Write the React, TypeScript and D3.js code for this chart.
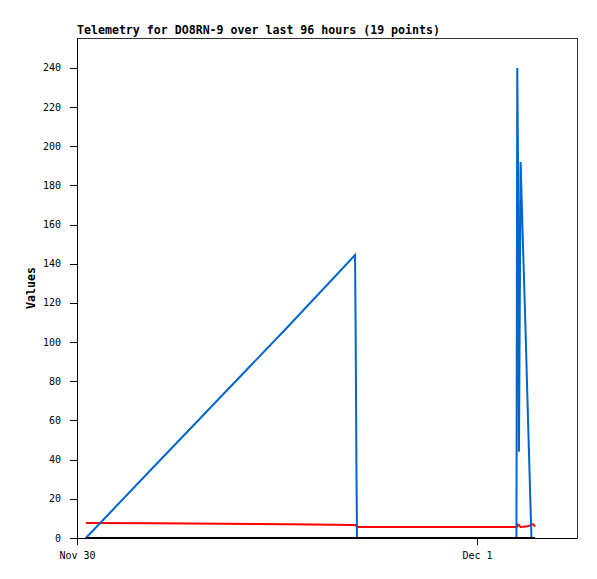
import { useEffect, useRef } from "react";
import * as d3 from "d3";

// sample times (local), 19 points
const times = [
  "2023-11-30 00:32",
  "2023-11-30 04:34",
  "2023-11-30 12:40",
  "2023-11-30 16:41",
  "2023-11-30 16:43",
  "2023-11-30 16:46",
  "2023-11-30 16:48",
  "2023-12-01 02:22",
  "2023-12-01 02:25",
  "2023-12-01 02:28",
  "2023-12-01 02:31",
  "2023-12-01 02:37",
  "2023-12-01 02:44",
  "2023-12-01 02:55",
  "2023-12-01 03:00",
  "2023-12-01 03:07",
  "2023-12-01 03:16",
  "2023-12-01 03:23",
  "2023-12-01 03:29",
];

const blueValues = [0, 36, 108, 144.5, 108, 36, 0, 0, 240, 184, 44, 192, 157, 105, 79, 44, 0, 0, 0];
const redValues = [7.7, 7.5, 7.0, 6.6, 6.4, 6.0, 5.6, 5.6, 5.9, 6.8, 6.6, 5.6, 5.7, 5.9, 6.0, 6.2, 6.9, 7.0, 5.8];
const blackValues = [0, 0, 0, 0, 0, 0, 0, 0, 0, 0, 0, 0, 0, 0, 0, 0, 0, 0, 0];

const yTicks = [0, 20, 40, 60, 80, 100, 120, 140, 160, 180, 200, 220, 240];
const xTickLabels = ["Nov 30", "Dec 1"];
const xTickTimes = ["2023-11-30 00:00", "2023-12-01 00:00"];
const xDomain = ["2023-11-30 00:00", "2023-12-01 06:00"];
const yDomain = [0, 255.3];

const title = "Telemetry for DO8RN-9 over last 96 hours (19 points)";

const parse = d3.timeParse("%Y-%m-%d %H:%M");

export default function App() {
  const ref = useRef<SVGSVGElement>(null);

  useEffect(() => {
    document.body.style.margin = "0";
  }, []);

  const width = 597;
  const height = 579;
  const margin = { top: 38, right: 20, bottom: 41, left: 77 };
  const innerW = width - margin.left - margin.right;
  const innerH = height - margin.top - margin.bottom;

  const x = d3
    .scaleTime()
    .domain(xDomain.map((t) => parse(t) as Date))
    .range([margin.left, margin.left + innerW]);
  const y = d3
    .scaleLinear()
    .domain(yDomain)
    .range([margin.top + innerH, margin.top]);

  const dates = times.map((t) => parse(t) as Date);
  const line = d3
    .line<number>()
    .x((_, i) => x(dates[i]))
    .y((v) => y(v));

  const series = [
    { values: redValues, color: "#ff0000" },
    { values: blueValues, color: "#0066cc" },
    { values: blackValues, color: "#000000" },
  ];

  const mono = "'DejaVu Sans Mono', monospace";
  const bottom = margin.top + innerH;

  return (
    <svg ref={ref} width={width} height={height} style={{ display: "block", background: "#fff" }}>
      {/* frame */}
      <rect
        x={margin.left + 0.5}
        y={margin.top + 0.5}
        width={innerW}
        height={innerH}
        fill="none"
        stroke="#333"
        strokeWidth={1}
      />
      <line x1={margin.left + 0.5} x2={margin.left + 0.5} y1={margin.top} y2={bottom + 7} stroke="#000" />
      <line x1={margin.left - 7} x2={margin.left + innerW} y1={bottom + 0.5} y2={bottom + 0.5} stroke="#000" />

      {/* y axis */}
      {yTicks.map((t) => (
        <g key={t}>
          <line
            x1={margin.left - 7}
            x2={margin.left}
            y1={Math.round(y(t)) + 0.5}
            y2={Math.round(y(t)) + 0.5}
            stroke="#000"
          />
          <text
            x={margin.left - 16}
            y={y(t)}
            dy="0.35em"
            textAnchor="end"
            fontFamily={mono}
            fontSize={10}
            fill="#000"
          >
            {t}
          </text>
        </g>
      ))}

      {/* x axis */}
      {xTickTimes.map((t, i) => {
        const xp = Math.round(x(parse(t) as Date)) + 0.5;
        return (
          <g key={t}>
            <line x1={xp} x2={xp} y1={bottom} y2={bottom + 7} stroke="#000" />
            <text x={xp} y={bottom + 21} textAnchor="middle" fontFamily={mono} fontSize={10} fill="#000">
              {xTickLabels[i]}
            </text>
          </g>
        );
      })}

      {/* series */}
      {series.map((s) => (
        <path
          key={s.color}
          d={line(s.values) ?? ""}
          fill="none"
          stroke={s.color}
          strokeWidth={2}
          strokeLinejoin="miter"
        />
      ))}

      {/* title */}
      <text x={margin.left} y={34} fontFamily={mono} fontWeight="bold" fontSize={11.6} fill="#000">
        {title}
      </text>

      {/* y label */}
      <text
        transform={`translate(35, ${margin.top + innerH / 2}) rotate(-90)`}
        textAnchor="middle"
        fontFamily={mono}
        fontWeight="bold"
        fontSize={11.6}
        fill="#000"
      >
        Values
      </text>
    </svg>
  );
}
